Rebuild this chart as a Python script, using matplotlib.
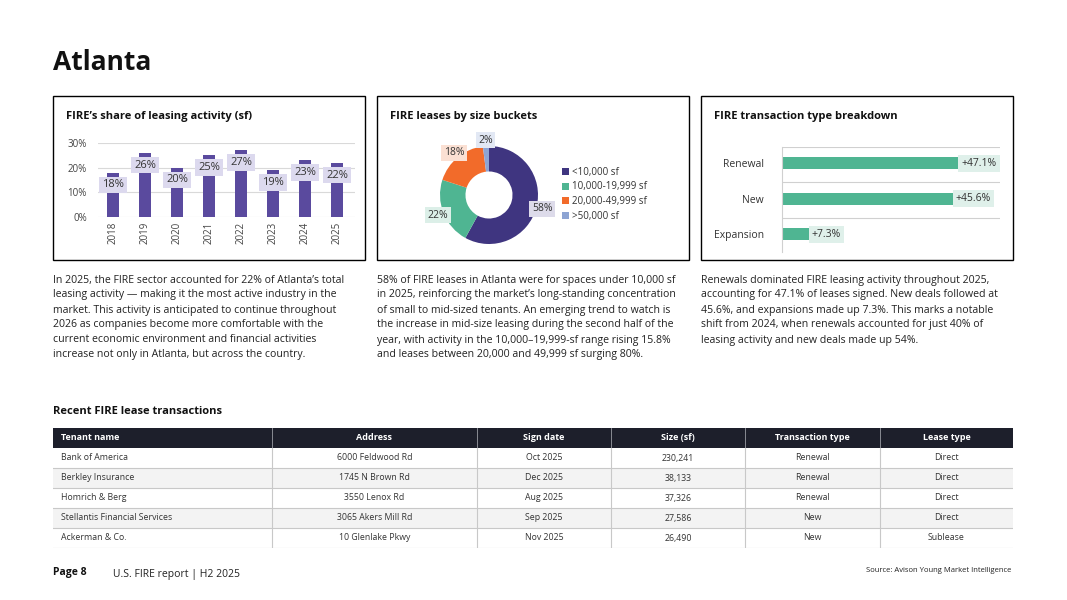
import numpy as np
import matplotlib

matplotlib.use("Agg")
import matplotlib.pyplot as plt
from matplotlib.patches import Rectangle

plt.rcParams['font.family'] = ['Open Sans', 'DejaVu Sans']

# --- data ---
years = ['2018', '2019', '2020', '2021', '2022', '2023', '2024', '2025']
fire_share = [18, 26, 20, 25, 27, 19, 23, 22]

size_buckets = ['<10,000 sf', '10,000-19,999 sf', '20,000-49,999 sf', '>50,000 sf']
size_share = [58, 22, 18, 2]

tx_types = ['Renewal', 'New', 'Expansion']
tx_share = [47.1, 45.6, 7.3]

table_cols = ['Tenant name', 'Address', 'Sign date', 'Size (sf)', 'Transaction type', 'Lease type']
tenants = ['Bank of America', 'Berkley Insurance', 'Homrich & Berg',
           'Stellantis Financial Services', 'Ackerman & Co.']
addresses = ['6000 Feldwood Rd', '1745 N Brown Rd', '3550 Lenox Rd',
             '3065 Akers Mill Rd', '10 Glenlake Pkwy']
sign_dates = ['Oct 2025', 'Dec 2025', 'Aug 2025', 'Sep 2025', 'Nov 2025']
sizes_sf = [230241, 38133, 37326, 27586, 26490]
deal_types = ['Renewal', 'Renewal', 'Renewal', 'New', 'New']
lease_types = ['Direct', 'Direct', 'Direct', 'Direct', 'Sublease']

text_share = [
    "In 2025, the FIRE sector accounted for 22% of Atlanta\u2019s total",
    "leasing activity \u2014 making it the most active industry in the",
    "market. This activity is anticipated to continue throughout",
    "2026 as companies become more comfortable with the",
    "current economic environment and financial activities",
    "increase not only in Atlanta, but across the country.",
]
text_size = [
    "58% of FIRE leases in Atlanta were for spaces under 10,000 sf",
    "in 2025, reinforcing the market\u2019s long-standing concentration",
    "of small to mid-sized tenants. An emerging trend to watch is",
    "the increase in mid-size leasing during the second half of the",
    "year, with activity in the 10,000\u201319,999-sf range rising 15.8%",
    "and leases between 20,000 and 49,999 sf surging 80%.",
]
text_type = [
    "Renewals dominated FIRE leasing activity throughout 2025,",
    "accounting for 47.1% of leases signed. New deals followed at",
    "45.6%, and expansions made up 7.3%. This marks a notable",
    "shift from 2024, when renewals accounted for just 40% of",
    "leasing activity and new deals made up 54%.",
]

# --- colours ---
BAR_PURPLE = '#5a4a9e'
NAVY = '#3f3580'
GREEN = '#4fb592'
ORANGE = '#f26b2a'
LIGHTBLUE = '#8da4d3'
TXT = '#333333'

W, H = 1067, 600
fig = plt.figure(figsize=(W / 100, H / 100), dpi=100)


def rect(x0, y0, x1, y1):
    # pixel box (top-left origin) -> figure coords
    return [x0 / W, 1 - y1 / H, (x1 - x0) / W, (y1 - y0) / H]


def ftext(x, y, s, **kw):
    fig.text(x / W, 1 - y / H, s, **kw)


ftext(53, 62, 'Atlanta', fontsize=19, fontweight='bold', va='center', color='#111111')

# panel frames and titles
panels = [(53, 'FIRE\u2019s share of leasing activity (sf)'),
          (377, 'FIRE leases by size buckets'),
          (701, 'FIRE transaction type breakdown')]
for x0, title in panels:
    fig.add_artist(Rectangle((x0 / W, 1 - 260 / H), 312 / W, 164 / H,
                             transform=fig.transFigure, fill=False, ec='black', lw=1))
    ftext(x0 + 13, 116, title, fontsize=8, fontweight='bold', va='center', color='#111111')

# --- panel 1: vertical bars ---
ax1 = fig.add_axes(rect(98, 142.7, 355, 217.3))
x = np.arange(len(years))
ax1.bar(x, fire_share, width=0.4, color=BAR_PURPLE, zorder=2)
for xi, v in zip(x, fire_share):
    ax1.text(xi, v - 5, f'{v}%', ha='center', va='center', fontsize=8, color=TXT, zorder=3,
             bbox=dict(boxstyle='square,pad=0.25', fc='#dcd9ee', ec='none'))
ax1.set_xlim(-0.47, 7.56)
ax1.set_ylim(0, 30)
ax1.set_yticks([0, 10, 20, 30])
ax1.set_yticklabels(['0%', '10%', '20%', '30%'])
ax1.set_xticks(x)
ax1.set_xticklabels(years, rotation=90)
ax1.tick_params(axis='both', length=0, labelsize=7, labelcolor='#444444')
ax1.tick_params(axis='y', pad=8)
ax1.tick_params(axis='x', pad=3)
ax1.grid(axis='y', color='#d9d9d9', lw=0.8, zorder=0)
for s in ax1.spines.values():
    s.set_visible(False)

# --- panel 2: donut ---
ax2 = fig.add_axes(rect(440, 146, 538, 244))
pie_colors = [NAVY, GREEN, ORANGE, LIGHTBLUE]
box_colors = ['#dddbea', '#dcefe8', '#fbe0d3', '#e2e8f4']
wedges, _ = ax2.pie(size_share, colors=pie_colors, startangle=90, counterclock=False,
                    wedgeprops=dict(width=0.52, edgecolor='none'))
for w, v, bc in zip(wedges, size_share, box_colors):
    ang = np.deg2rad((w.theta1 + w.theta2) / 2)
    r = 1.12
    ax2.text(r * np.cos(ang), r * np.sin(ang), f'{v}%', ha='center', va='center',
             fontsize=7.5, color=TXT,
             bbox=dict(boxstyle='square,pad=0.25', fc=bc, ec='none'))
ax2.set_xlim(-1, 1)
ax2.set_ylim(-1, 1)
ax2.set_aspect('equal')
ax2.axis('off')
fig.legend(wedges, size_buckets, loc='upper left', bbox_to_anchor=(562 / W, 1 - 167 / H),
           frameon=False, fontsize=7, handlelength=0.7, handleheight=0.7,
           handletextpad=0.35, labelspacing=0.36, borderpad=0, borderaxespad=0,
           labelcolor=TXT)

# --- panel 3: horizontal bars ---
ax3 = fig.add_axes(rect(782, 147, 1000, 252))
y = np.arange(len(tx_types))
ax3.barh(y, tx_share, height=0.33, color=GREEN, zorder=2)
for yi, v in zip(y, tx_share):
    ax3.text(v + 0.6, yi, f'+{v}%', ha='left', va='center', fontsize=7.5, color=TXT, zorder=3,
             bbox=dict(boxstyle='square,pad=0.3', fc='#dff0ea', ec='none'))
    ax3.axhline(yi - 0.46, color='#d0d0d0', lw=0.8, zorder=0)
ax3.set_xlim(0, 58)
ax3.set_ylim(2.5, -0.46)
ax3.set_yticks(y)
ax3.set_yticklabels(tx_types)
ax3.set_xticks([])
ax3.tick_params(axis='y', length=0, pad=13, labelsize=7.5, labelcolor=TXT)
for k, s in ax3.spines.items():
    s.set_visible(k == 'left')
ax3.spines['left'].set_color('#d0d0d0')
ax3.spines['left'].set_linewidth(0.8)

# --- commentary text ---
for x0, lines in [(53, text_share), (377, text_size), (701, text_type)]:
    for i, line in enumerate(lines):
        ftext(x0, 280 + 15 * i, line, fontsize=7.6, va='center', color='#222222')

# --- table ---
ftext(53, 412, 'Recent FIRE lease transactions', fontsize=8, fontweight='bold',
      va='center', color='#111111')
tab = fig.add_axes(rect(53, 428, 1013, 548))
col_w = [219, 205, 134, 134, 135, 133]
edges = np.cumsum([0] + col_w)
n_rows = len(tenants)
tab.set_xlim(0, edges[-1])
tab.set_ylim(n_rows + 1, 0)
tab.axis('off')
tab.add_patch(Rectangle((0, 0), edges[-1], 1, fc='#1d1f2b', ec='none'))
for i in range(n_rows):
    if i % 2 == 1:
        tab.add_patch(Rectangle((0, i + 1), edges[-1], 1, fc='#f3f3f3', ec='none'))
    tab.axhline(i + 2, color='#c8c8c8', lw=0.8)
for e in edges[1:-1]:
    tab.plot([e, e], [0, 1], color='#9a9ca3', lw=0.6)
    tab.plot([e, e], [1, n_rows + 1], color='#c8c8c8', lw=0.8)

rows = list(zip(tenants, addresses, sign_dates, [f'{v:,}' for v in sizes_sf],
                deal_types, lease_types))
for j, name in enumerate(table_cols):
    if j == 0:
        tab.text(8, 0.5, name, ha='left', va='center', fontsize=6.5, fontweight='bold', color='white')
    else:
        tab.text((edges[j] + edges[j + 1]) / 2, 0.5, name, ha='center', va='center',
                 fontsize=6.5, fontweight='bold', color='white')
for i, row in enumerate(rows):
    for j, val in enumerate(row):
        if j == 0:
            tab.text(8, i + 1.5, val, ha='left', va='center', fontsize=6.3, color=TXT)
        else:
            tab.text((edges[j] + edges[j + 1]) / 2, i + 1.5, val, ha='center', va='center',
                     fontsize=6.3, color=TXT)

# --- footer ---
ftext(53, 573, 'Page 8', fontsize=7.5, fontweight='bold', va='center', color='#111111')
ftext(113, 574, 'U.S. FIRE report | H2 2025', fontsize=7.5, va='center', color='#222222')
ftext(1011, 571, 'Source: Avison Young Market Intelligence', fontsize=5.5, ha='right',
      va='center', color='#222222')

fig.savefig('out.png', dpi=100)
